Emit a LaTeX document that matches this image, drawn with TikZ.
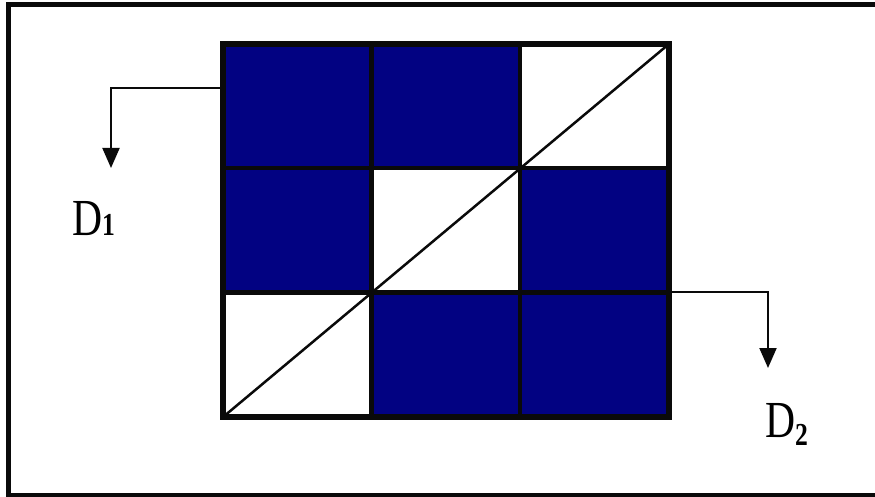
\documentclass[tikz,border=0pt]{standalone}
\usepackage{fontspec}
\setmainfont{Liberation Serif}
\usetikzlibrary{arrows.meta,positioning}
\definecolor{navy}{RGB}{2,2,130}
\definecolor{ink}{RGB}{10,10,10}
\tikzset{
  >={Triangle[length=20pt,width=17pt]},
  cell/.style={fill=navy},
  gridline/.style={draw=ink,line width=4.5pt},
  flow/.style={->,draw=ink,line width=2pt},
  dlabel/.style={anchor=base west,inner sep=0pt,xscale=0.8,
    font=\fontsize{52}{52}\selectfont},
}
% D with a small bold index
\newcommand{\dname}[2]{D\raisebox{#2}{\fontsize{32}{32}\selectfont\textbf{#1}}}

\begin{document}
\begin{tikzpicture}[x=1pt,y=-1pt]
  \useasboundingbox (0,0) rectangle (875,497);
  \draw[ink,line width=5pt] (8.5,4.5) rectangle (885,495.5);

  % 3x3 board
  \node[minimum width=446pt,minimum height=373pt,inner sep=0pt] (grid) at (446,230.5) {};
  \foreach \c/\r in {0/0,1/0,0/1,2/1,1/2,2/2}
    \fill[cell] ([xshift=\c*148.67pt,yshift=-\r*124.33pt]grid.north west)
      rectangle ++(148.67pt,-124.33pt);
  \draw[ink,line width=2.5pt] (grid.south west) -- (grid.north east);
  \foreach \i in {1,2} {
    \draw[gridline] ([xshift=\i*148.67pt]grid.north west) -- ([xshift=\i*148.67pt]grid.south west);
    \draw[gridline] ([yshift=-\i*124.33pt]grid.north west) -- ([yshift=-\i*124.33pt]grid.north east);
  }
  \draw[ink,line width=6pt] (grid.north west) rectangle (grid.south east);

  % directions
  \coordinate (d1) at (111,168);
  \coordinate (d2) at (768,368);
  \draw[flow] ([yshift=-44pt]grid.north west) -| (d1);
  \draw[flow] ([yshift=125pt]grid.south east) -| (d2);
  \node[dlabel] (lab1) at (72,235) {\dname{1}{0pt}};
  \node[dlabel] (lab2) at (765,437) {\dname{2}{-8pt}};
\end{tikzpicture}
\end{document}
